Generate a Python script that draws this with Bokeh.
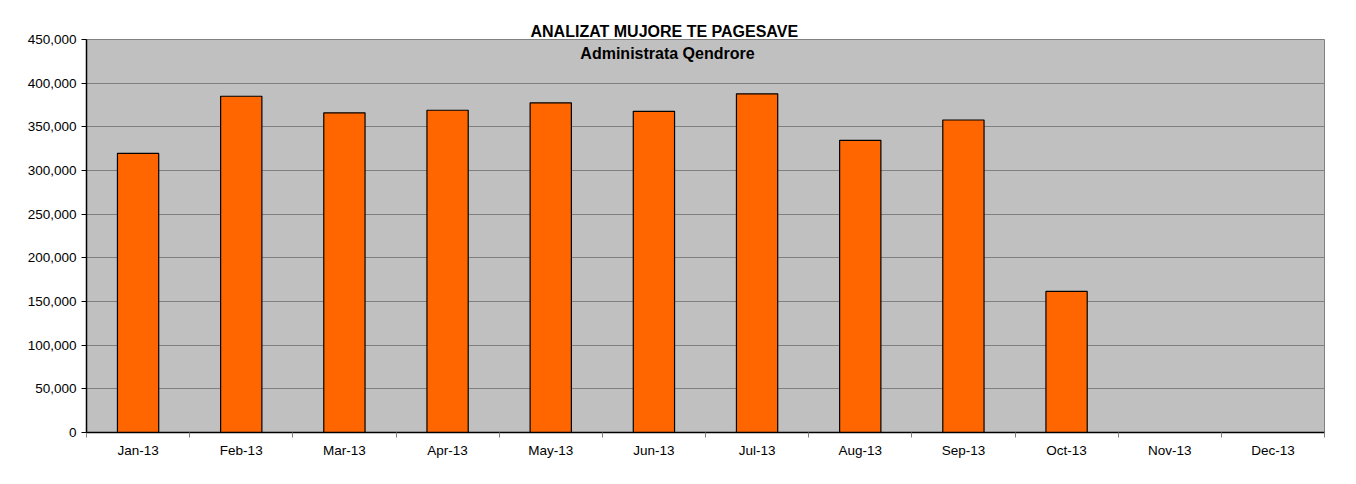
from bokeh.plotting import figure
from bokeh.models import FixedTicker, NumeralTickFormatter, Label, Range1d, ColumnDataSource, Title
from bokeh.embed import file_html
from bokeh.resources import INLINE

months = ["Jan-13", "Feb-13", "Mar-13", "Apr-13", "May-13", "Jun-13",
          "Jul-13", "Aug-13", "Sep-13", "Oct-13", "Nov-13", "Dec-13"]
values = [319500, 385000, 366000, 369000, 377500, 367800,
          387800, 334500, 357800, 161500, 0, 0]
y_ticks = [0, 50000, 100000, 150000, 200000, 250000, 300000, 350000, 400000, 450000]
title = "ANALIZAT MUJORE TE PAGESAVE"
subtitle = "Administrata Qendrore"

centers = [i + 0.5 for i in range(len(months))]
src = ColumnDataSource(dict(x=centers[:10], top=values[:10]))

p = figure(width=1350, height=476, output_backend="svg", toolbar_location=None,
           x_range=Range1d(0, 12), y_range=Range1d(0, 450000),
           min_border_left=86, min_border_right=26, min_border_top=39, min_border_bottom=44)
p.background_fill_color = "#C0C0C0"
p.border_fill_color = "white"
p.outline_line_color = "#808080"

p.vbar(x="x", top="top", width=0.4, source=src, fill_color="#FF6600",
       line_color="black", line_width=1.2)

p.xaxis.ticker = FixedTicker(ticks=centers, minor_ticks=list(range(13)))
p.xaxis.major_label_overrides = {c: m for c, m in zip(centers, months)}
p.xaxis.major_tick_line_color = None
p.xaxis.minor_tick_out = 5
p.xaxis.minor_tick_in = 0
p.xaxis.minor_tick_line_color = "#808080"
p.xaxis.axis_line_color = "black"
p.xaxis.axis_line_width = 1.5
p.xaxis.major_label_standoff = 4
p.xgrid.grid_line_color = None

p.yaxis.ticker = FixedTicker(ticks=y_ticks)
p.yaxis.formatter = NumeralTickFormatter(format="0,0")
p.yaxis.major_tick_out = 5
p.yaxis.major_tick_in = 0
p.yaxis.minor_tick_line_color = None
p.yaxis.axis_line_color = "black"
p.yaxis.axis_line_width = 1.5
p.yaxis.major_tick_line_color = "black"
p.ygrid.grid_line_color = "#808080"
p.ygrid.grid_line_width = 1

for ax in (p.xaxis, p.yaxis):
    ax.major_label_text_font = "Liberation Sans"
    ax.major_label_text_font_size = "13.5px"
    ax.major_label_text_color = "black"

p.add_layout(Title(text=title, align="left", offset=444, standoff=0,
                   text_font="Liberation Sans", text_font_size="16px",
                   text_font_style="bold", text_color="black"), "above")
p.add_layout(Label(x=581, y=379, x_units="screen", y_units="screen", text=subtitle,
                   text_font="Liberation Sans", text_font_size="16px",
                   text_font_style="bold", text_align="center",
                   text_baseline="middle", text_color="black"))

open("out.html", "w").write(file_html(p, INLINE))
